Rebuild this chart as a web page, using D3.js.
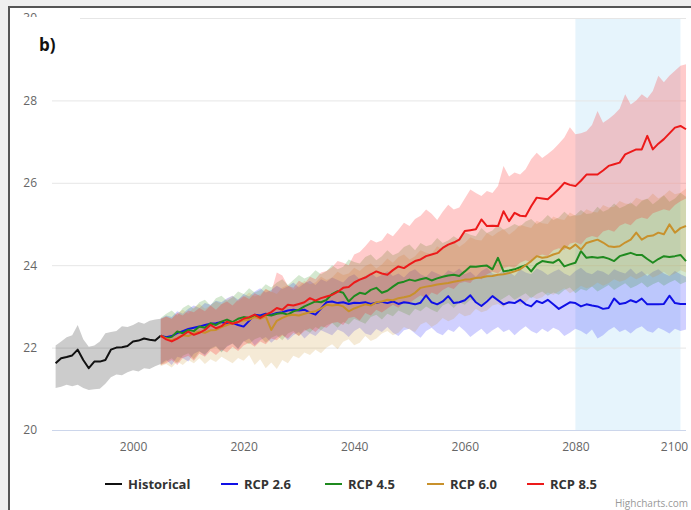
<!DOCTYPE html>
<html>
<head>
<meta charset="utf-8">
<script src="https://cdn.jsdelivr.net/npm/d3@7"></script>
<style>
  body { margin: 0; background: #f0f0f0; overflow: hidden; }
  svg { display: block; }
  text { font-family: "Open Sans", "DejaVu Sans", sans-serif; }
</style>
</head>
<body>
<div class="chartContainer"></div>
<script>
// data (yearly values)
const histStart = 1986;
const rcpStart = 2005;
const yTicks = [20, 22, 24, 26, 28, 30];
const xTicks = [2000, 2020, 2040, 2060, 2080, 2100];
const highlight = [2080, 2099];

const hist = [21.62, 21.74, 21.77, 21.81, 21.95, 21.70, 21.50, 21.66, 21.66, 21.70,
  21.95, 22.00, 22.01, 22.04, 22.15, 22.17, 22.22, 22.19, 22.17, 22.29];
const histLow = [21.02, 21.05, 21.10, 21.06, 21.10, 21.02, 20.97, 20.99, 21.00, 21.12,
  21.28, 21.35, 21.33, 21.40, 21.45, 21.42, 21.50, 21.48, 21.55, 21.60];
const histHigh = [22.05, 22.15, 22.25, 22.30, 22.55, 22.20, 22.02, 22.05, 22.15, 22.35,
  22.38, 22.40, 22.52, 22.50, 22.55, 22.62, 22.58, 22.65, 22.68, 22.70];

const rcp26 = [22.29,
  22.25, 22.28, 22.35, 22.40, 22.45, 22.48, 22.51, 22.55, 22.58, 22.59,
  22.62, 22.58, 22.60, 22.55, 22.51, 22.65, 22.80, 22.78, 22.82, 22.80,
  22.84, 22.86, 22.90, 22.92, 22.90, 22.92, 22.85, 22.80, 22.95, 23.10,
  23.12, 23.08, 23.10, 23.06, 23.09, 23.08, 23.10, 23.06, 23.09, 23.11,
  23.08, 23.12, 23.06, 23.10, 23.08, 23.05, 23.09, 23.27, 23.10, 23.05,
  23.12, 23.25, 23.08, 23.10, 23.15, 23.27, 23.10, 23.01, 23.12, 23.25,
  23.15, 23.05, 23.10, 23.08, 23.16, 23.05, 23.00, 23.13, 23.08, 23.16,
  23.05, 22.94, 23.02, 23.10, 23.08, 23.00, 23.05, 23.02, 23.00, 22.94,
  22.96, 23.19, 23.06, 23.08, 23.15, 23.10, 23.19, 23.05, 23.05, 23.05,
  23.06, 23.26, 23.08, 23.06, 23.06];
const rcp26Low = [21.60,
  21.70, 21.58, 21.78, 21.74, 21.66, 21.85, 21.92, 21.80, 21.98, 22.04,
  21.90, 22.02, 22.10, 21.96, 22.14, 22.22, 22.05, 22.18, 22.26, 22.12,
  22.24, 22.32, 22.18, 22.30, 22.38, 22.22, 22.35, 22.28, 22.42, 22.36,
  22.30, 22.44, 22.38, 22.26, 22.40, 22.48, 22.34, 22.30, 22.45, 22.38,
  22.50, 22.36, 22.28, 22.42, 22.46, 22.34, 22.24, 22.40, 22.48, 22.36,
  22.30, 22.44, 22.38, 22.52, 22.40, 22.26, 22.36, 22.46, 22.32, 22.42,
  22.50, 22.38, 22.44, 22.30, 22.42, 22.52, 22.40, 22.34, 22.46, 22.38,
  22.48, 22.42, 22.28, 22.36, 22.46, 22.40, 22.32, 22.44, 22.22, 22.30,
  22.42, 22.50, 22.38, 22.44, 22.34, 22.46, 22.52, 22.40, 22.36, 22.48,
  22.42, 22.34, 22.46, 22.40, 22.44];
const rcp26High = [22.70,
  22.78, 22.74, 22.88, 22.82, 22.94, 23.02, 22.96, 23.08, 23.04, 23.14,
  23.10, 23.20, 23.26, 23.16, 23.30, 23.24, 23.36, 23.44, 23.34, 23.40,
  23.50, 23.42, 23.48, 23.58, 23.46, 23.56, 23.62, 23.52, 23.66, 23.60,
  23.70, 23.64, 23.58, 23.72, 23.78, 23.66, 23.74, 23.82, 23.70, 23.76,
  23.86, 23.74, 23.80, 23.70, 23.84, 23.90, 23.78, 23.72, 23.86, 23.80,
  23.74, 23.88, 23.82, 23.92, 23.78, 23.84, 23.72, 23.86, 23.94, 23.80,
  23.76, 23.88, 23.84, 23.74, 23.90, 23.82, 23.78, 23.92, 23.86, 23.76,
  23.84, 23.90, 23.80, 23.74, 23.86, 23.94, 23.82, 23.78, 23.88, 23.84,
  23.76, 23.90, 23.84, 23.80, 23.92, 23.78, 23.86, 23.74, 23.84, 23.90,
  23.80, 23.74, 23.86, 23.78, 23.72];

const rcp45 = [22.29,
  22.23, 22.26, 22.39, 22.35, 22.43, 22.40, 22.51, 22.48, 22.59, 22.55,
  22.63, 22.68, 22.62, 22.70, 22.74, 22.72, 22.76, 22.74, 22.80, 22.78,
  22.82, 22.84, 22.80, 22.88, 22.92, 23.00, 23.06, 23.12, 23.10, 23.16,
  23.30, 23.37, 23.33, 23.12, 23.25, 23.33, 23.30, 23.40, 23.45, 23.33,
  23.38, 23.48, 23.57, 23.60, 23.65, 23.62, 23.66, 23.69, 23.63, 23.68,
  23.72, 23.75, 23.77, 23.74, 23.85, 23.97, 23.96, 23.98, 23.99, 23.90,
  24.18, 23.85, 23.87, 23.90, 23.95, 24.00, 23.85, 24.02, 24.10, 24.08,
  24.06, 24.14, 23.97, 24.02, 24.06, 24.34, 24.18, 24.20, 24.18, 24.20,
  24.16, 24.10, 24.22, 24.26, 24.30, 24.25, 24.25, 24.15, 24.06, 24.15,
  24.22, 24.20, 24.22, 24.25, 24.10];
const rcp45Low = [21.58,
  21.66, 21.74, 21.62, 21.80, 21.86, 21.72, 21.90, 21.84, 21.96, 22.02,
  21.88, 22.04, 22.10, 21.98, 22.16, 22.08, 22.20, 22.26, 22.12, 22.24,
  22.30, 22.18, 22.34, 22.40, 22.28, 22.44, 22.36, 22.50, 22.42, 22.54,
  22.60, 22.48, 22.62, 22.56, 22.70, 22.64, 22.58, 22.74, 22.80, 22.68,
  22.82, 22.76, 22.90, 22.84, 22.78, 22.94, 22.88, 23.00, 22.92, 22.86,
  23.02, 23.08, 22.96, 23.10, 23.04, 23.16, 23.12, 23.02, 23.18, 23.24,
  23.12, 23.20, 23.28, 23.16, 23.24, 23.32, 23.20, 23.30, 23.36, 23.26,
  23.34, 23.28, 23.40, 23.46, 23.32, 23.42, 23.38, 23.48, 23.36, 23.44,
  23.52, 23.40, 23.48, 23.56, 23.44, 23.50, 23.58, 23.46, 23.54, 23.60,
  23.50, 23.58, 23.64, 23.54, 23.60];
const rcp45High = [22.72,
  22.82, 22.90, 22.78, 22.96, 23.04, 22.94, 23.10, 23.16, 23.02, 23.20,
  23.26, 23.14, 23.22, 23.36, 23.30, 23.44, 23.34, 23.40, 23.54, 23.46,
  23.58, 23.66, 23.52, 23.64, 23.76, 23.68, 23.74, 23.88, 23.78, 23.86,
  24.00, 23.90, 23.96, 24.14, 24.08, 24.04, 24.20, 24.26, 24.12, 24.22,
  24.36, 24.24, 24.30, 24.44, 24.50, 24.36, 24.54, 24.46, 24.50, 24.66,
  24.54, 24.60, 24.70, 24.62, 24.80, 24.74, 24.70, 24.90, 24.78, 24.84,
  24.98, 24.86, 24.92, 25.00, 24.94, 25.06, 25.12, 25.00, 25.08, 25.22,
  25.10, 25.16, 25.30, 25.18, 25.22, 25.34, 25.24, 25.26, 25.42, 25.30,
  25.36, 25.50, 25.38, 25.44, 25.52, 25.42, 25.56, 25.62, 25.48, 25.58,
  25.70, 25.54, 25.62, 25.76, 25.66];

const rcp60 = [22.29,
  22.22, 22.18, 22.23, 22.30, 22.28, 22.35, 22.39, 22.36, 22.42, 22.43,
  22.50, 22.55, 22.59, 22.62, 22.66, 22.68, 22.74, 22.70, 22.76, 22.43,
  22.65, 22.72, 22.78, 22.80, 22.78, 22.82, 22.86, 22.88, 22.95, 23.04,
  23.02, 23.04, 23.00, 22.88, 22.95, 23.00, 23.05, 23.02, 23.10, 23.12,
  23.16, 23.15, 23.20, 23.22, 23.25, 23.33, 23.45, 23.48, 23.50, 23.53,
  23.55, 23.57, 23.60, 23.62, 23.65, 23.66, 23.69, 23.70, 23.73, 23.74,
  23.77, 23.78, 23.81, 23.85, 23.90, 24.00, 24.10, 24.22, 24.18, 24.20,
  24.26, 24.30, 24.46, 24.40, 24.50, 24.38, 24.54, 24.58, 24.62, 24.55,
  24.46, 24.44, 24.46, 24.55, 24.62, 24.79, 24.62, 24.70, 24.72, 24.79,
  24.75, 24.99, 24.79, 24.90, 24.95];
const rcp60Low = [21.55,
  21.60, 21.52, 21.66, 21.58, 21.70, 21.62, 21.74, 21.60, 21.72, 21.65,
  21.78, 21.70, 21.62, 21.75, 21.68, 21.82, 21.58, 21.72, 21.50, 21.64,
  21.48, 21.70, 21.62, 21.80, 21.74, 21.88, 21.82, 21.95, 21.86, 22.00,
  22.08, 21.96, 22.14, 22.20, 22.06, 22.12, 22.28, 22.16, 22.22, 22.34,
  22.40, 22.30, 22.36, 22.50, 22.44, 22.38, 22.56, 22.62, 22.50, 22.58,
  22.72, 22.64, 22.70, 22.84, 22.76, 22.80, 22.94, 22.86, 22.90, 23.02,
  23.06, 22.98, 23.12, 23.16, 23.04, 23.10, 23.24, 23.18, 23.22, 23.34,
  23.28, 23.36, 23.44, 23.32, 23.40, 23.50, 23.44, 23.48, 23.58, 23.50,
  23.56, 23.66, 23.60, 23.64, 23.74, 23.66, 23.72, 23.80, 23.70, 23.76,
  23.84, 23.74, 23.80, 23.88, 23.82];
const rcp60High = [22.68,
  22.76, 22.70, 22.84, 22.92, 22.82, 22.98, 23.06, 22.94, 23.02, 23.12,
  23.06, 23.18, 23.26, 23.12, 23.22, 23.34, 23.24, 23.30, 23.42, 23.36,
  23.30, 23.46, 23.52, 23.40, 23.50, 23.62, 23.54, 23.58, 23.72, 23.64,
  23.70, 23.84, 23.76, 23.80, 23.94, 23.86, 23.98, 24.04, 23.92, 24.02,
  24.16, 24.06, 24.20, 24.26, 24.14, 24.22, 24.36, 24.30, 24.28, 24.46,
  24.38, 24.50, 24.58, 24.44, 24.54, 24.68, 24.62, 24.60, 24.78, 24.70,
  24.80, 24.88, 24.74, 24.84, 24.98, 24.94, 24.90, 25.08, 25.02, 25.00,
  25.18, 25.12, 25.10, 25.28, 25.20, 25.22, 25.36, 25.30, 25.28, 25.46,
  25.40, 25.42, 25.56, 25.50, 25.48, 25.64, 25.58, 25.60, 25.74, 25.62,
  25.70, 25.82, 25.72, 25.76, 25.86];

const rcp85 = [22.29,
  22.20, 22.15, 22.22, 22.30, 22.39, 22.31, 22.36, 22.43, 22.55, 22.47,
  22.52, 22.63, 22.58, 22.62, 22.70, 22.74, 22.80, 22.72, 22.80, 22.86,
  22.96, 22.92, 23.04, 23.02, 23.06, 23.10, 23.20, 23.14, 23.20, 23.24,
  23.28, 23.35, 23.45, 23.47, 23.58, 23.65, 23.70, 23.78, 23.85, 23.80,
  23.77, 23.88, 23.97, 23.93, 24.02, 24.10, 24.14, 24.22, 24.26, 24.30,
  24.42, 24.50, 24.55, 24.62, 24.83, 24.85, 24.87, 25.11, 24.95, 24.96,
  24.95, 25.31, 25.07, 25.27, 25.20, 25.19, 25.43, 25.64, 25.62, 25.60,
  25.72, 25.85, 26.00, 25.95, 25.92, 26.05, 26.20, 26.20, 26.20, 26.30,
  26.41, 26.45, 26.49, 26.69, 26.75, 26.81, 26.81, 27.14, 26.81, 26.95,
  27.06, 27.20, 27.34, 27.38, 27.30];
const rcp85Low = [21.58,
  21.62, 21.70, 21.58, 21.75, 21.80, 21.68, 21.85, 21.78, 21.92, 21.82,
  21.95, 21.88, 22.02, 21.92, 22.05, 22.12, 22.02, 22.15, 22.08, 22.22,
  22.18, 22.30, 22.22, 22.36, 22.28, 22.40, 22.47, 22.38, 22.52, 22.48,
  22.60, 22.62, 22.55, 22.72, 22.75, 22.66, 22.84, 22.78, 22.92, 22.85,
  22.95, 23.04, 22.97, 23.12, 23.08, 23.18, 23.27, 23.20, 23.34, 23.28,
  23.40, 23.47, 23.42, 23.56, 23.60, 23.57, 23.72, 23.66, 23.78, 23.84,
  23.80, 23.93, 23.97, 23.94, 24.06, 24.12, 24.07, 24.21, 24.26, 24.22,
  24.36, 24.41, 24.37, 24.52, 24.56, 24.50, 24.66, 24.71, 24.67, 24.82,
  24.86, 24.81, 24.96, 25.02, 24.97, 25.11, 25.16, 25.12, 25.26, 25.31,
  25.36, 25.32, 25.46, 25.55, 25.62];
const rcp85High = [22.70,
  22.75, 22.70, 22.84, 22.78, 22.90, 22.86, 22.96, 22.88, 23.02, 22.92,
  23.05, 23.12, 23.02, 23.16, 23.25, 23.18, 23.32, 23.25, 23.42, 23.35,
  23.82, 23.75, 23.50, 23.45, 23.62, 23.55, 23.72, 23.66, 23.82, 23.86,
  23.95, 24.10, 24.06, 24.00, 24.26, 24.32, 24.46, 24.62, 24.55, 24.60,
  24.78, 24.70, 24.86, 25.03, 24.95, 25.12, 25.20, 25.35, 25.25, 25.10,
  25.30, 25.47, 25.35, 25.40, 25.62, 25.84, 25.75, 25.68, 25.80, 25.75,
  25.92, 26.41, 26.15, 26.25, 26.20, 26.33, 26.57, 26.73, 26.60, 26.70,
  26.81, 26.95, 27.10, 27.35, 27.18, 27.20, 27.25, 27.40, 27.74, 27.46,
  27.55, 27.66, 27.80, 28.15, 27.90, 28.00, 28.15, 28.05, 28.23, 28.60,
  28.44, 28.60, 28.72, 28.84, 28.88];

const series = [
  { name: 'Historical', start: histStart, mean: hist, low: histLow, high: histHigh, color: '#111111', fill: 'rgba(0,0,0,0.2)' },
  { name: 'RCP 2.6', start: rcpStart, mean: rcp26, low: rcp26Low, high: rcp26High, color: '#1010e6', fill: 'rgba(40,40,255,0.22)' },
  { name: 'RCP 4.5', start: rcpStart, mean: rcp45, low: rcp45Low, high: rcp45High, color: '#1f8a1f', fill: 'rgba(40,140,20,0.2)' },
  { name: 'RCP 6.0', start: rcpStart, mean: rcp60, low: rcp60Low, high: rcp60High, color: '#c8912c', fill: 'rgba(205,150,50,0.2)' },
  { name: 'RCP 8.5', start: rcpStart, mean: rcp85, low: rcp85Low, high: rcp85High, color: '#ec1a1a', fill: 'rgba(255,20,20,0.22)' }
];

const width = 691, height = 510;
const plot = { left: 52, right: 686, top: 18, bottom: 430 };

const svg = d3.select('.chartContainer')
  .append('svg')
  .attr('width', width)
  .attr('height', height);

// frame of the screenshot: grey margin, dark line on the left and top only
svg.append('rect').attr('x', 0).attr('y', 0).attr('width', width).attr('height', height).style('fill', '#efefef');
svg.append('rect').attr('x', 9).attr('y', 7).attr('width', width - 9).attr('height', height - 7).style('fill', '#ffffff');
svg.append('path').attr('d', `M9,${height}V7H${width}`)
  .style('fill', 'none').style('stroke', '#555').style('stroke-width', 2);

const xScale = d3.scaleLinear().domain([1985.35, 2100]).range([plot.left, plot.right]);
const yScale = d3.scaleLinear().domain([20, 30]).range([plot.bottom, plot.top]);

// plot band 2080-2099
svg.append('rect')
  .attr('x', xScale(highlight[0]))
  .attr('y', plot.top)
  .attr('width', xScale(highlight[1]) - xScale(highlight[0]))
  .attr('height', plot.bottom - plot.top)
  .style('fill', '#e6f4fc');

// y grid + labels
const yAxis = svg.append('g')
  .attr('transform', `translate(${plot.left},0)`)
  .call(d3.axisLeft(yScale).tickValues(yTicks).tickSize(-(plot.right - plot.left)).tickPadding(15));
yAxis.select('.domain').remove();
yAxis.selectAll('.tick line').style('stroke', (d) => d === 20 ? '#ccd6eb' : '#e6e6e6');
yAxis.selectAll('.tick text').style('fill', '#666').style('font-size', '12px');

// x labels
const xAxis = svg.append('g')
  .attr('transform', `translate(0,${plot.bottom})`)
  .call(d3.axisBottom(xScale).tickValues(xTicks).tickFormat(d3.format('d')).tickSize(0).tickPadding(12));
xAxis.select('.domain').remove();
xAxis.selectAll('.tick text').style('fill', '#666').style('font-size', '12px')
  .attr('dx', (d) => d === 2100 ? -12 : 0);

const pts = (s) => s.mean.map((v, i) => ({ year: s.start + i, v: v, lo: s.low[i], hi: s.high[i] }));

const area = d3.area()
  .x((d) => xScale(d.year))
  .y0((d) => yScale(d.lo))
  .y1((d) => yScale(d.hi));
const line = d3.line()
  .x((d) => xScale(d.year))
  .y((d) => yScale(d.v));

const chart = svg.append('g');
chart.selectAll('.band')
  .data(series)
  .enter()
  .append('path')
  .attr('class', 'band')
  .attr('d', (s) => area(pts(s)))
  .style('fill', (s) => s.fill);

chart.selectAll('.mean')
  .data(series)
  .enter()
  .append('path')
  .attr('class', 'mean')
  .attr('d', (s) => line(pts(s)))
  .style('fill', 'none')
  .style('stroke', (s) => s.color)
  .style('stroke-width', 2)
  .style('stroke-linejoin', 'round');

// panel label box (covers the top tick label like in the source)
svg.append('rect').attr('x', 18).attr('y', 17).attr('width', 62).attr('height', 50).style('fill', '#fff');
svg.append('text').attr('x', 39).attr('y', 51).text('b)')
  .style('font-size', '17px').style('font-weight', 'bold').style('fill', '#111');

// legend
const legendX = [105, 221, 325, 427, 527];
const legend = svg.append('g');
const item = legend.selectAll('g')
  .data(series)
  .enter()
  .append('g')
  .attr('transform', (d, i) => `translate(${legendX[i]},484)`);
item.append('line')
  .attr('x1', 0).attr('x2', 17).attr('y1', 0).attr('y2', 0)
  .style('stroke', (d) => d.color).style('stroke-width', 2);
item.append('text')
  .attr('x', 23).attr('y', 5)
  .text((d) => d.name)
  .style('font-size', '13px').style('font-weight', 'bold').style('fill', '#333');

svg.append('text').attr('x', 688).attr('y', 507).attr('text-anchor', 'end')
  .text('Highcharts.com').style('font-size', '10px').style('fill', '#999');
</script>
</body>
</html>
